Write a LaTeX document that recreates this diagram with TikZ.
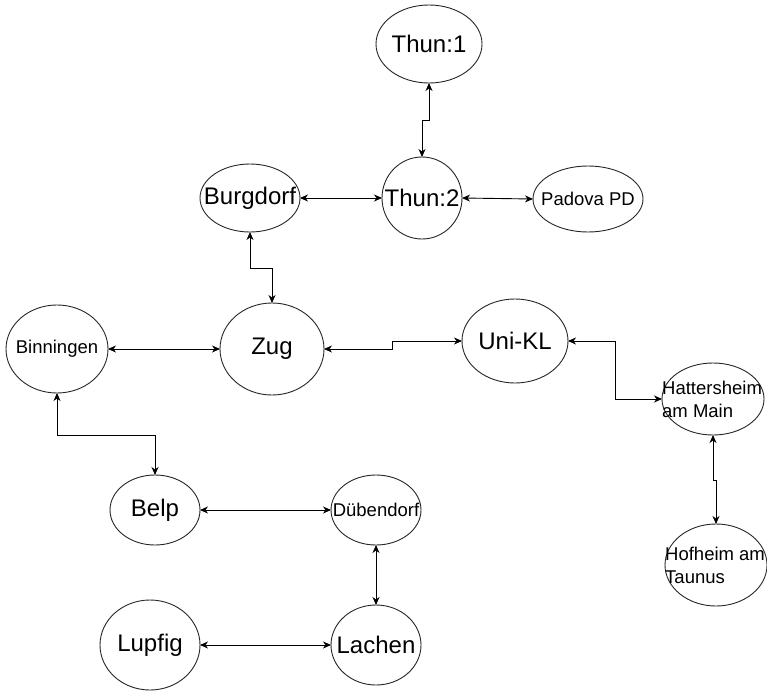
\documentclass[tikz,border=0pt]{standalone}
\usepackage{fontspec}
\setmainfont{Liberation Sans}
\usetikzlibrary{shapes.geometric,arrows.meta}
\begin{document}
\begin{tikzpicture}[x=1pt,y=-1pt,
  city/.style={draw=black!85, line width=0.9pt, ellipse, inner sep=0pt, outer sep=0pt},
  big/.style={font=\fontsize{24}{28}\selectfont},
  small/.style={font=\fontsize{18.5}{23}\selectfont},
  conn/.style={draw=black, line width=0.9pt, {Stealth[length=8pt,width=7pt,inset=2.5pt]}-{Stealth[length=8pt,width=7pt,inset=2.5pt]}}
]
\useasboundingbox (0,0) rectangle (767,690);

\node[city, minimum width=106pt, minimum height=78pt, label={[big,inner sep=0pt]center:Thun:1}] (t1) at (429,44) {};
\node[city, minimum width=80pt, minimum height=82pt, label={[big,inner sep=0pt]center:Thun:2}] (t2) at (422,198) {};
\node[city, minimum width=100pt, minimum height=68pt, label={[big,inner sep=0pt]center:Burgdorf}] (burg) at (250,198) {};
\node[city, minimum width=110pt, minimum height=66pt, label={[small,inner sep=0pt]center:Padova PD}] (pad) at (588,199) {};
\node[city, minimum width=102pt, minimum height=88pt, label={[small,inner sep=0pt]center:Binningen}] (binn) at (57,349) {};
\node[city, minimum width=104pt, minimum height=92pt, label={[big,inner sep=0pt]center:Zug}] (zug) at (272,349) {};
\node[city, minimum width=106pt, minimum height=84pt, label={[big,inner sep=0pt]center:Uni-KL}] (uni) at (515,341) {};
\node[city, minimum width=102pt, minimum height=72pt, label={[small,inner sep=0pt,anchor=west,align=left]west:Hattersheim\\am Main}] (hat) at (713,399) {};
\node[city, minimum width=102pt, minimum height=82pt, label={[small,inner sep=0pt,anchor=west,align=left]west:Hofheim am\\Taunus}] (hof) at (716,565) {};
\node[city, minimum width=90pt, minimum height=70pt, label={[big,inner sep=0pt]center:Belp}] (belp) at (155,510) {};
\node[city, minimum width=90pt, minimum height=70pt, label={[small,inner sep=0pt]center:Dübendorf}] (dub) at (376,510) {};
\node[city, minimum width=100pt, minimum height=90pt, label={[big,inner sep=0pt]center:Lupfig}] (lup) at (150,645) {};
\node[city, minimum width=90pt, minimum height=80pt, label={[big,inner sep=0pt]center:Lachen}] (lach) at (376,645) {};

\draw[conn] (t1.south) -- ++(0,37) -| (t2.north);
\draw[conn] (burg.east) -- (t2.west);
\draw[conn] (t2.east) -- (pad.west);
\draw[conn] (burg.south) -- ++(0,36) -| (zug.north);
\draw[conn] (binn.east) -- (zug.west);
\draw[conn] (zug.east) -- ++(68,0) |- (uni.west);
\draw[conn] (uni.east) -- ++(47,0) |- (hat.west);
\draw[conn] (hat.south) -- ++(0,45) -| (hof.north);
\draw[conn] (binn.south) -- ++(0,42) -| (belp.north);
\draw[conn] (belp.east) -- (dub.west);
\draw[conn] (dub.south) -- (lach.north);
\draw[conn] (lup.east) -- (lach.west);
\end{tikzpicture}
\end{document}
